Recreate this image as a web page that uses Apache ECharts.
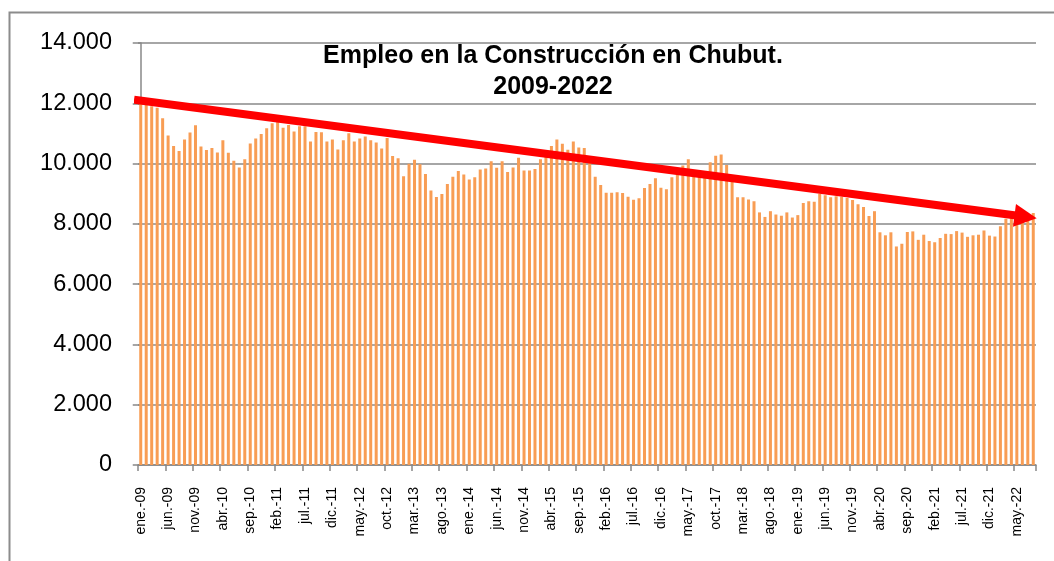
<!DOCTYPE html>
<html>
<head>
<meta charset="utf-8">
<script src="https://cdn.jsdelivr.net/npm/echarts@6/dist/echarts.min.js"></script>
<style>
html,body{margin:0;padding:0;background:#fff;}
#chart{width:1054px;height:561px;}
</style>
</head>
<body>
<div id="chart"></div>
<script>
// ---- data ----
const monthNames = ['ene.','feb.','mar.','abr.','may.','jun.','jul.','ago.','sep.','oct.','nov.','dic.'];
const startYear = 2009;
const empleo = [
12100,11950,11900,11850,11500,10930,10580,10420,10800,11030,11270,10570,
10450,10520,10370,10770,10360,10090,9870,10140,10670,10830,10980,11170,
11340,11400,11190,11280,11060,11240,11240,10730,11050,11040,10730,10800,
10470,10770,11010,10730,10830,10900,10770,10700,10500,10850,10250,10180,
9580,9990,10130,9980,9650,9110,8890,8990,9320,9560,9750,9640,
9470,9550,9800,9840,10080,9860,10080,9720,9870,10190,9770,9770,
9820,10140,10350,10580,10800,10660,10460,10730,10530,10520,10050,9560,
9290,9030,9030,9050,9020,8900,8800,8850,9190,9320,9510,9200,
9150,9550,9770,9940,10140,9750,9700,9700,10040,10260,10300,9950,
9450,8880,8880,8810,8750,8380,8230,8420,8310,8270,8380,8210,
8290,8690,8750,8730,9000,8950,8880,8920,8900,8860,8790,8650,
8560,8260,8420,7720,7620,7720,7250,7340,7730,7750,7470,7640,
7430,7390,7530,7670,7660,7760,7710,7570,7620,7640,7780,7610,
7580,7920,8170,8200,8150,8150,8200,8360
];
const yTicks = [0,2000,4000,6000,8000,10000,12000,14000];
// trend arrow endpoints: [category position, value]
const trendStart = [-1.22, 12120];
const trendEnd = [161.6, 8234];
const titleLines = ['Empleo en la Construcción en Chubut.', '2009-2022'];

// ---- build ----
const categories = empleo.map((v, i) => {
  const m = i % 12;
  const y = startYear + Math.floor(i / 12);
  return monthNames[m] + '-' + String(y % 100).padStart(2, '0');
});
const fmt = v => String(v).replace(/\B(?=(\d{3})+(?!\d))/g, '.');

const chart = echarts.init(document.getElementById('chart'), null, {renderer: 'canvas'});
chart.setOption({
  animation: false,
  backgroundColor: '#fff',
  title: {
    text: titleLines.join('\n'),
    left: 548,
    top: 36,
    textAlign: 'center',
    textStyle: {
      fontFamily: 'Liberation Sans',
      fontWeight: 'bold',
      fontSize: 25,
      lineHeight: 31,
      color: '#000'
    }
  },
  grid: {left: 138, right: 18, top: 43, bottom: 96},
  xAxis: [{
    type: 'category',
    data: categories,
    boundaryGap: true,
    axisLine: {show: true, lineStyle: {color: '#888', width: 1.5}},
    axisTick: {show: true, interval: 4, length: 6, lineStyle: {color: '#888', width: 1.5}},
    axisLabel: {
      interval: 4,
      rotate: 90,
      margin: 22,
      fontFamily: 'Liberation Sans',
      fontSize: 14,
      color: '#000'
    },
    splitLine: {show: false}
  }, {
    type: 'value',
    min: -0.5,
    max: empleo.length - 0.5,
    show: false
  }],
  yAxis: {
    type: 'value',
    min: yTicks[0],
    max: yTicks[yTicks.length - 1],
    interval: yTicks[1] - yTicks[0],
    axisLine: {show: true, lineStyle: {color: '#888', width: 1.5}},
    axisTick: {show: true, length: 8, lineStyle: {color: '#888', width: 1.5}},
    axisLabel: {
      margin: 26,
      fontFamily: 'Liberation Sans',
      fontSize: 23.5,
      color: '#000',
      formatter: fmt
    },
    splitLine: {show: true, lineStyle: {color: '#888', width: 1.5}}
  },
  series: [{
    type: 'bar',
    data: empleo,
    barWidth: 3,
    itemStyle: {color: '#F89D54'},
    z: 2
  }, {
    type: 'line',
    xAxisIndex: 1,
    data: [trendStart, trendEnd],
    symbol: 'none',
    showSymbol: false,
    lineStyle: {width: 8, color: '#FF0000', cap: 'butt'},
    itemStyle: {color: '#FF0000'},
    clip: false,
    z: 5,
    silent: true
  }]
});

// arrowhead at the trend end, placed through the chart's own scales
const p0 = chart.convertToPixel({seriesIndex: 1}, trendStart);
const p1 = chart.convertToPixel({seriesIndex: 1}, trendEnd);
const dx = p1[0] - p0[0], dy = p1[1] - p0[1];
const len = Math.sqrt(dx * dx + dy * dy);
const ux = dx / len, uy = dy / len;
const nx = -uy, ny = ux;
const half = 11.2, wing = 11.4;
const tip = [p1[0] + ux * half, p1[1] + uy * half];
const bc = [p1[0] - ux * half, p1[1] - uy * half];
chart.setOption({
  graphic: [{
    type: 'rect',
    shape: {x: 9.5, y: 12.5, width: 1200, height: 700},
    style: {fill: 'none', stroke: '#8c8c8c', lineWidth: 2},
    silent: true,
    z: -1
  }, {
    type: 'polygon',
    shape: {points: [tip, [bc[0] + nx * wing, bc[1] + ny * wing], [bc[0] - nx * wing, bc[1] - ny * wing]]},
    style: {fill: '#FF0000'},
    silent: true,
    z: 10
  }]
});
</script>
</body>
</html>
